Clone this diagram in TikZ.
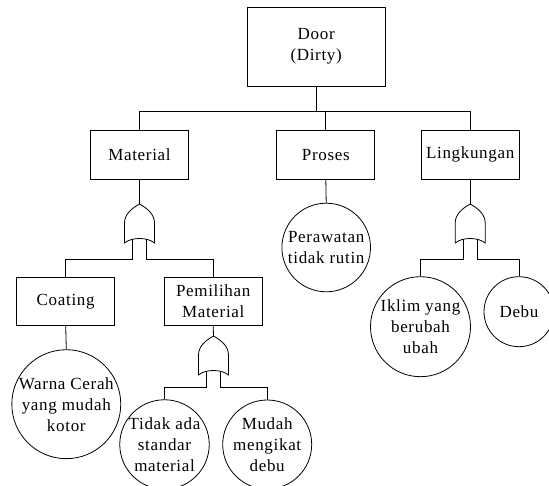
\documentclass[tikz,border=0pt]{standalone}
\usepackage{fontspec}
\setmainfont[LetterSpace=4]{Liberation Serif}

\tikzset{
	box/.style={draw, minimum width=98pt, minimum height=49pt, align=center, inner sep=2pt},
	event/.style={draw, circle, align=center, inner sep=0pt},
	orgate/.pic={
		\draw (0,0) .. controls (-9,5) and (-15,11) .. (-15,19) -- (-15,39)
			.. controls (-8,33) and (8,33) .. (15,39) -- (15,19)
			.. controls (15,11) and (9,5) .. (0,0) -- cycle;
		\coordinate (-in) at (0,0);
		\coordinate (-l) at (-7,35.5);
		\coordinate (-r) at (7,35.5);
	}
}

\begin{document}
\begin{tikzpicture}[x=1pt, y=-1pt, line width=0.8pt, font=\fontsize{17}{21}\selectfont]
		\useasboundingbox (0,0) rectangle (549,486);
		
		\node[box, minimum width=138pt, minimum height=79pt] (door) at (316.2, 46.7) {Door\\(Dirty)};
		\node[box] (material) at (139.5, 154.7) {Material};
		\node[box] (proses) at (325.8, 154.7) {Proses};
		\node[box] (lingkungan) at (470.2, 154.7) {Lingkungan};
		
		\coordinate (bus1) at (0, 111.7);
		\coordinate (bus2) at (0, 259);
		\coordinate (bus3) at (0, 387.7);
		
		\draw (door.south) -- (door.south |- bus1);
		\draw (material.north) -- (material.north |- bus1) -- (lingkungan.north |- bus1) -- (lingkungan.north);
		\draw (proses.north) -- (proses.north |- bus1);
		
		\pic (gmat) at (139.5, 204) {orgate};
		\pic (gling) at (470.2, 204) {orgate};
		\node[event, minimum size=88.6pt] (perawatan) at (326.2, 247.5) {Perawatan\\tidak rutin};
		
		\draw (material.south) -- (gmat-in);
		\draw (proses.south) -- (perawatan.north);
		\draw (lingkungan.south) -- (gling-in);
		
		\node[box, minimum height=48.4pt] (coating) at (65.7, 301.5) {Coating};
		\node[box, minimum height=48.4pt] (pemilihan) at (213.2, 301.5) {Pemilihan\\Material};
		\node[event, minimum size=108pt] (warna) at (66.3, 404.2) {Warna Cerah\\yang mudah\\kotor};
		
		\draw (gmat-l) -- (gmat-l |- bus2) -| (coating.north);
		\draw (gmat-r) -- (gmat-r |- bus2) -| (pemilihan.north);
		\draw (coating.south) -- (warna.north);
		
		\node[event, minimum size=100pt] (iklim) at (420.5, 326.7) {Iklim yang\\berubah\\ubah};
		\node[event, minimum size=70pt] (debu) at (519, 311.7) {Debu};
		
		\draw (gling-l) -- (gling-l |- bus2) -| (iklim.north);
		\draw (gling-r) -- (gling-r |- bus2) -| (debu.north);
		
		\pic (gpem) at (213.5, 336) {orgate};
		\node[event, minimum size=89pt] (tidak) at (164.5, 444.5) {Tidak ada\\standar\\material};
		\node[event, minimum size=89pt] (mudah) at (267.2, 444.5) {Mudah\\mengikat\\debu};
		
		\draw (pemilihan.south) -- (gpem-in);
		\draw (gpem-l) -- (gpem-l |- bus3) -| (tidak.north);
		\draw (gpem-r) -- (gpem-r |- bus3) -| (mudah.north);
	\end{tikzpicture}
\end{document}
